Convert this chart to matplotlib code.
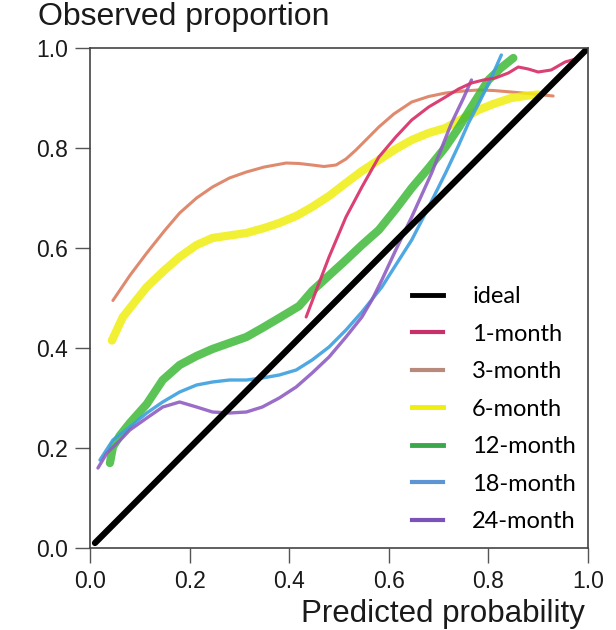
import numpy as np
from matplotlib import pyplot as plt
from matplotlib.lines import Line2D

# values (predicted probability, observed proportion)
ideal_x = [0.01, 1.0]
ideal_y = [0.01, 1.0]

m1_x = [0.434, 0.46, 0.48, 0.514, 0.546, 0.58, 0.614, 0.646, 0.68, 0.714, 0.74, 0.766, 0.79, 0.814, 0.84, 0.86, 0.88, 0.9, 0.926, 0.954, 0.975, 1.0]
m1_y = [0.462, 0.53, 0.582, 0.662, 0.722, 0.782, 0.822, 0.856, 0.882, 0.902, 0.918, 0.93, 0.936, 0.94, 0.95, 0.962, 0.958, 0.952, 0.956, 0.972, 0.978, 0.996]

m3_x = [0.046, 0.08, 0.114, 0.15, 0.18, 0.214, 0.246, 0.28, 0.314, 0.35, 0.394, 0.42, 0.446, 0.47, 0.494, 0.514, 0.534, 0.556, 0.58, 0.61, 0.646, 0.68, 0.714, 0.75, 0.78, 0.81, 0.846, 0.89, 0.93]
m3_y = [0.495, 0.545, 0.59, 0.635, 0.67, 0.7, 0.722, 0.74, 0.752, 0.762, 0.77, 0.769, 0.766, 0.763, 0.766, 0.778, 0.796, 0.818, 0.842, 0.868, 0.892, 0.903, 0.91, 0.914, 0.916, 0.915, 0.912, 0.908, 0.904]

m6_x = [0.044, 0.066, 0.09, 0.114, 0.15, 0.18, 0.214, 0.246, 0.28, 0.314, 0.35, 0.38, 0.414, 0.446, 0.48, 0.514, 0.546, 0.58, 0.614, 0.646, 0.68, 0.714, 0.75, 0.78, 0.81, 0.846, 0.88, 0.9]
m6_y = [0.415, 0.462, 0.492, 0.522, 0.556, 0.582, 0.606, 0.62, 0.625, 0.63, 0.64, 0.65, 0.664, 0.682, 0.704, 0.73, 0.754, 0.776, 0.798, 0.816, 0.83, 0.84, 0.86, 0.876, 0.888, 0.9, 0.905, 0.907]

m12_x = [0.04, 0.046, 0.06, 0.08, 0.114, 0.146, 0.18, 0.214, 0.246, 0.28, 0.314, 0.346, 0.38, 0.42, 0.446, 0.48, 0.514, 0.546, 0.58, 0.614, 0.646, 0.68, 0.714, 0.74, 0.766, 0.8, 0.825, 0.85]
m12_y = [0.17, 0.202, 0.225, 0.25, 0.288, 0.336, 0.366, 0.384, 0.398, 0.41, 0.422, 0.44, 0.46, 0.484, 0.514, 0.545, 0.576, 0.606, 0.636, 0.678, 0.72, 0.76, 0.802, 0.84, 0.882, 0.936, 0.96, 0.98]

m18_x = [0.02, 0.046, 0.08, 0.114, 0.146, 0.18, 0.214, 0.246, 0.28, 0.314, 0.346, 0.38, 0.414, 0.446, 0.48, 0.514, 0.546, 0.586, 0.614, 0.646, 0.68, 0.714, 0.74, 0.76, 0.78, 0.794, 0.81, 0.826]
m18_y = [0.176, 0.216, 0.242, 0.27, 0.292, 0.312, 0.326, 0.332, 0.336, 0.336, 0.34, 0.346, 0.356, 0.376, 0.402, 0.436, 0.472, 0.522, 0.566, 0.616, 0.682, 0.75, 0.805, 0.85, 0.888, 0.916, 0.95, 0.986]

m24_x = [0.016, 0.034, 0.06, 0.08, 0.114, 0.146, 0.18, 0.214, 0.246, 0.28, 0.314, 0.346, 0.38, 0.414, 0.446, 0.48, 0.514, 0.546, 0.566, 0.586, 0.614, 0.646, 0.686, 0.726, 0.75, 0.766]
m24_y = [0.16, 0.19, 0.215, 0.236, 0.26, 0.282, 0.292, 0.282, 0.272, 0.27, 0.272, 0.282, 0.3, 0.322, 0.35, 0.382, 0.422, 0.462, 0.496, 0.536, 0.596, 0.662, 0.75, 0.85, 0.9, 0.936]

labels = ['ideal', '1-month', '3-month', '6-month', '12-month', '18-month', '24-month']

fig = plt.figure(figsize=(6.16, 6.3), dpi=100)
ax = fig.add_axes([90/616, 82/630, 498/616, 500/630])

series = [
	(m3_x, m3_y, '#de8466', 2.2, 0.95),
	(m6_x, m6_y, '#f0ee10', 6.0, 0.85),
	(m12_x, m12_y, '#3fba3a', 6.0, 0.85),
	(m18_x, m18_y, '#3d9fe0', 2.4, 0.9),
	(m24_x, m24_y, '#8e5dc2', 2.4, 0.9),
	(m1_x, m1_y, '#d8356c', 2.2, 0.95),
]
for x, y, c, lw, a in series:
	ax.plot(x, y, color=c, lw=lw, alpha=a, solid_capstyle='round')
ax.plot(ideal_x, ideal_y, color='black', lw=4.5, solid_capstyle='round')

# legend drawn with thin handles like the reference
leg_colors = ['black', '#c8306a', '#b88a7c', '#f0ee10', '#3aa84a', '#5c94d4', '#7a52b8']
leg_lw = [3.5, 3, 3, 3.5, 3.5, 3, 3]
proxies = [Line2D([0], [0], color=c, lw=w) for c, w in zip(leg_colors, leg_lw)]
ax.legend(proxies, labels, loc='upper left', bbox_to_anchor=(412/616, 1 - 286/630),
	bbox_transform=fig.transFigure, frameon=False, borderpad=0, borderaxespad=0,
	prop={'family': 'Lato', 'size': 17}, handlelength=1.3, handletextpad=1.25, labelspacing=0.7)

ax.set_xlim(0, 1)
ax.set_ylim(0, 1)
ticks = [0.0, 0.2, 0.4, 0.6, 0.8, 1.0]
ax.set_xticks(ticks)
ax.set_yticks(ticks)
ax.set_xticklabels(['%.1f' % t for t in ticks], family='Liberation Sans', fontsize=16.5, color='#1a1a1a')
ax.set_yticklabels(['%.1f' % t for t in ticks], family='Liberation Sans', fontsize=16.5, color='#1a1a1a')
ax.tick_params(direction='out', length=11, width=1, color='#555555', pad=5)
for s in ax.spines.values():
	s.set_color('#444444')
	s.set_linewidth(1.2)

fig.text(38/616, 1 - 25/630, 'Observed proportion', family='Liberation Sans', fontsize=23, color='#1a1a1a')
fig.text(585/616, 1 - 622/630, 'Predicted probability', family='Liberation Sans', fontsize=22.5, color='#1a1a1a', ha='right')

fig.savefig('out.png', dpi=100)
